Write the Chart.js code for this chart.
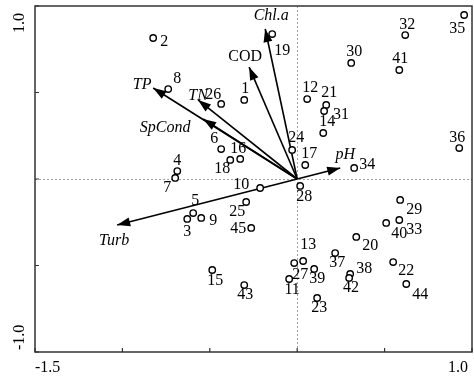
<!DOCTYPE html>
<html>
<head>
<meta charset="utf-8">
<script src="https://cdn.jsdelivr.net/npm/chart.js@4"></script>
<style>
  html, body { margin: 0; padding: 0; background: #fff; }
  canvas { display: block; }
</style>
</head>
<body>
<canvas id="rda" width="474" height="377"></canvas>
<script>
// site scores (axis 1, axis 2)
const siteIds = [1,2,3,4,5,6,7,8,9,10,11,12,13,14,15,16,17,18,19,20,21,22,23,24,25,
  26,27,28,29,30,31,32,33,34,35,36,37,38,39,40,41,42,43,44,45];
const siteX = [-0.303,-0.824,-0.629,-0.686,-0.595,-0.435,-0.698,-0.738,-0.549,-0.212,
  -0.046,0.057,0.034,0.149,-0.486,-0.326,0.046,-0.383,-0.143,0.338,
  0.166,0.549,0.114,-0.029,-0.292,-0.435,-0.017,0.017,0.589,0.309,
  0.154,0.618,0.584,0.326,0.955,0.927,0.217,0.303,0.097,0.509,
  0.584,0.297,-0.303,0.624,-0.263];
const siteY = [0.457,0.815,-0.231,0.046,-0.197,0.173,0.006,0.520,-0.225,-0.052,
  -0.578,0.462,-0.474,0.266,-0.526,0.116,0.081,0.110,0.838,-0.335,
  0.428,-0.480,-0.688,0.168,-0.133,0.434,-0.486,-0.040,-0.121,0.671,
  0.393,0.832,-0.237,0.064,0.948,0.179,-0.428,-0.549,-0.520,-0.254,
  0.630,-0.572,-0.613,-0.607,-0.283];

// environmental variables (arrow tips)
const varNames = ["Chl.a", "COD", "TP", "TN", "SpCond", "pH", "Turb"];
const varX = [-0.183, -0.275, -0.824, -0.567, -0.538, 0.246, -1.030];
const varY = [0.867, 0.647, 0.526, 0.457, 0.347, 0.064, -0.266];

const xTickLabels = [-1.5, 1.0];
const yTickLabels = [-1.0, 1.0];

// label placement (pixels from the point)
const siteLabelOff = {
  1:[1,-12], 2:[11,3], 3:[0,12], 4:[0,-11], 5:[2,-13], 6:[-7,-11], 7:[-8,9], 8:[9,-11], 9:[12,2], 10:[-19,-4],
  11:[3,10], 12:[3,-12], 13:[5,-17], 14:[4,-12], 15:[3,10], 16:[-2,-11], 17:[4,-12], 18:[-8,8], 19:[10,16], 20:[14,8],
  21:[3,-13], 22:[13,8], 23:[2,9], 24:[4,-13], 25:[-9,9], 26:[-8,-10], 27:[6,11], 28:[4,10], 29:[14,9], 30:[3,-12],
  31:[17,3], 32:[2,-11], 33:[15,9], 34:[13,-4], 35:[-7,13], 36:[-2,-11], 37:[2,9], 38:[14,-6], 39:[3,9], 40:[13,10],
  41:[1,-12], 42:[2,9], 43:[1,9], 44:[14,10], 45:[-13,0]
};
const varLabelOff = {
  "Chl.a":[6,-13], "COD":[-4,-10], "TP":[-11,-3], "TN":[0,-4], "SpCond":[-38,9], "pH":[5,-13], "Turb":[-3,16]
};

const FONT = "16px 'Liberation Serif', 'Times New Roman', serif";
const IFONT = "italic 16px 'Liberation Serif', 'Times New Roman', serif";

const arrowSets = varNames.map((n, i) => ({
  label: n,
  data: [{ x: 0, y: 0 }, { x: varX[i], y: varY[i] }],
  showLine: true,
  borderColor: "#000",
  borderWidth: 1.6,
  pointRadius: 0
}));

const ordiPlugin = {
  id: "ordi",
  beforeDatasetsDraw(chart) {
    const { ctx, chartArea: a, scales: { x, y } } = chart;
    ctx.save();
    ctx.strokeStyle = "#a0a0a0";
    ctx.lineWidth = 1;
    ctx.setLineDash([2, 2]);
    const x0 = Math.round(x.getPixelForValue(0)) + 0.5;
    const y0 = Math.round(y.getPixelForValue(0)) + 0.5;
    ctx.beginPath();
    ctx.moveTo(x0, a.top); ctx.lineTo(x0, a.bottom);
    ctx.moveTo(a.left, y0); ctx.lineTo(a.right, y0);
    ctx.stroke();
    ctx.restore();
  },
  afterDatasetsDraw(chart) {
    const { ctx, chartArea: a, scales: { x, y } } = chart;
    ctx.save();
    // arrow heads
    const ox = x.getPixelForValue(0), oy = y.getPixelForValue(0);
    ctx.fillStyle = "#000";
    varNames.forEach((n, i) => {
      const tx = x.getPixelForValue(varX[i]), ty = y.getPixelForValue(varY[i]);
      const len = Math.hypot(tx - ox, ty - oy);
      const ux = (tx - ox) / len, uy = (ty - oy) / len;
      const L = 13, W = 4.5;
      ctx.beginPath();
      ctx.moveTo(tx, ty);
      ctx.lineTo(tx - L * ux - W * uy, ty - L * uy + W * ux);
      ctx.lineTo(tx - L * ux + W * uy, ty - L * uy - W * ux);
      ctx.closePath();
      ctx.fill();
      const off = varLabelOff[n];
      ctx.font = n === "COD" ? FONT : IFONT;
      ctx.textAlign = "center";
      ctx.textBaseline = "middle";
      ctx.fillText(n, tx + off[0], ty + off[1]);
    });
    // site labels
    ctx.font = FONT;
    ctx.textAlign = "center";
    ctx.textBaseline = "middle";
    siteIds.forEach((id, i) => {
      const px = x.getPixelForValue(siteX[i]), py = y.getPixelForValue(siteY[i]);
      const off = siteLabelOff[id];
      ctx.fillText(String(id), px + off[0], py + off[1] + 1);
    });
    // frame
    ctx.strokeStyle = "#333";
    ctx.lineWidth = 1.5;
    ctx.strokeRect(a.left, a.top, a.right - a.left, a.bottom - a.top);
    // inward ticks
    ctx.lineWidth = 1.2;
    ctx.beginPath();
    for (let v = -1.5; v <= 1.0001; v += 0.5) {
      const px = x.getPixelForValue(v);
      ctx.moveTo(px, a.bottom); ctx.lineTo(px, a.bottom - 4);
    }
    for (let v = -1.0; v <= 1.0001; v += 0.5) {
      const py = y.getPixelForValue(v);
      ctx.moveTo(a.left, py); ctx.lineTo(a.left + 4, py);
    }
    ctx.stroke();
    // tick labels
    ctx.fillStyle = "#000";
    ctx.font = FONT;
    ctx.textBaseline = "middle";
    xTickLabels.forEach((v, i) => {
      const px = x.getPixelForValue(v);
      ctx.textAlign = i === 0 ? "left" : "right";
      ctx.fillText(v.toFixed(1), i === 0 ? px : px - 4, a.bottom + 16);
    });
    yTickLabels.forEach((v, i) => {
      const py = y.getPixelForValue(v);
      ctx.save();
      ctx.translate(a.left - 15, i === 0 ? py - 2 : py + 7);
      ctx.rotate(-Math.PI / 2);
      ctx.textAlign = i === 0 ? "left" : "right";
      ctx.fillText(v.toFixed(1), 0, 0);
      ctx.restore();
    });
    ctx.restore();
  }
};

new Chart(document.getElementById("rda"), {
  type: "scatter",
  data: {
    datasets: [
      {
        label: "sites",
        data: siteX.map((v, i) => ({ x: v, y: siteY[i] })),
        pointRadius: 3.2,
        pointBorderWidth: 1.4,
        pointBorderColor: "#000",
        pointBackgroundColor: "#fff"
      },
      ...arrowSets
    ]
  },
  options: {
    responsive: false,
    animation: false,
    layout: { autoPadding: false, padding: { top: 6, right: 2, left: 0, bottom: 0 } },
    plugins: { legend: { display: false }, tooltip: { enabled: false } },
    scales: {
      x: {
        type: "linear", min: -1.5, max: 1.0,
        ticks: { display: false }, grid: { display: false }, border: { display: false },
        afterFit: (s) => { s.height = 25; }
      },
      y: {
        type: "linear", min: -1.0, max: 1.0,
        ticks: { display: false }, grid: { display: false }, border: { display: false },
        afterFit: (s) => { s.width = 35; }
      }
    }
  },
  plugins: [ordiPlugin]
});
</script>
</body>
</html>
